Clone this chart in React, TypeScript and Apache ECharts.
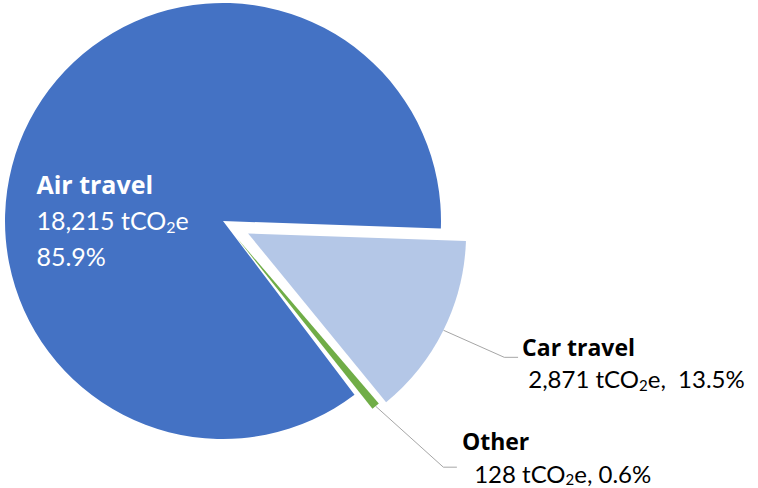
import React, { useEffect, useRef } from 'react';
import * as echarts from 'echarts';

const categories = ['Car travel', 'Other', 'Air travel'];
const values = [2871, 128, 18215];
const sliceColors = ['#B4C7E7', '#70AD47', '#4472C4'];
const unitMain = 'tCO';
const unitSub = '2';
const unitEnd = 'e';

const FONT = 'Lato';
const BOLD_FONT = 'Open Sans';

export default function App() {
  const ref = useRef<HTMLDivElement>(null);

  useEffect(() => {
    const chart = echarts.init(ref.current!, null, { renderer: 'svg' });
    const fmt = (v: number) => v.toLocaleString('en-US');
    const center = [223, 221];
    const radius = 218;

    const makeData = (visible: number, label: any) =>
      categories.map((name, i) => ({
        name,
        value: values[i],
        selected: i === visible,
        itemStyle: {
          color: i === visible ? sliceColors[i] : 'rgba(0,0,0,0)',
          borderWidth: 0,
        },
        label: i === visible ? label : { show: false },
        labelLine: { show: i === visible && label.position === 'outside' },
      }));

    const richFor = (size: number, subSize: number, subPad: number, color: string, lh: number, boldSize: number) => ({
      b: { fontFamily: BOLD_FONT, fontWeight: 'bold', fontSize: boldSize, color, lineHeight: lh, align: 'left' },
      n: { fontFamily: FONT, fontSize: size, color, lineHeight: lh, align: 'left' },
      s: { fontFamily: FONT, fontSize: subSize, color, lineHeight: lh, padding: [subPad, 0, 0, 0], align: 'left' },
    });

    const airLabel = {
      show: true,
      position: 'inside',
      formatter: (p: any) =>
        `{b|${p.name}}\n{n|${fmt(p.value)} ${unitMain}}{s|${unitSub}}{n|${unitEnd}}\n{n|${p.percent.toFixed(1)}%}`,
      rich: richFor(25, 16, 12, '#ffffff', 36, 25),
    };

    const carLabel = {
      show: true,
      position: 'outside',
      distanceToLabelLine: 4,
      edgeDistance: 0,
      padding: [11, 0, 0, 0],
      formatter: (p: any) =>
        `{b|${p.name}}\n{n| ${fmt(p.value)} ${unitMain}}{s|${unitSub}}{n|${unitEnd},  ${p.percent.toFixed(1)}%}`,
      rich: richFor(24, 15, 12, '#000000', 32, 23),
    };

    const otherLabel = {
      show: true,
      position: 'outside',
      distanceToLabelLine: 5,
      edgeDistance: 0,
      padding: [0, 0, 20, 0],
      formatter: (p: any) =>
        `{b|${p.name}}\n{n|  ${fmt(p.value)} ${unitMain}}{s|${unitSub}}{n|${unitEnd}, ${p.percent.toFixed(1)}%}`,
      rich: richFor(24, 15, 12, '#000000', 32, 23),
    };

    const common = {
      type: 'pie',
      center,
      radius,
      clockwise: true,
      silent: true,
      avoidLabelOverlap: false,
      percentPrecision: 1,
      emphasis: { disabled: true },
    };

    chart.setOption({
      animation: false,
      series: [
        {
          ...common,
          startAngle: -2,
          selectedMode: false,
          data: makeData(2, airLabel),
          labelLayout: (p: any) => (p.dataIndex === 2 ? { dx: -11, dy: 51 } : {}),
        },
        {
          ...common,
          startAngle: -2,
          selectedMode: 'single',
          selectedOffset: 28,
          labelLine: { length: 61, length2: 20, minTurnAngle: 156, lineStyle: { color: '#A6A6A6', width: 1 } },
          data: makeData(0, carLabel),
        },
        {
          ...common,
          startAngle: -0.7,
          selectedMode: 'single',
          selectedOffset: 22,
          labelLine: { length: 79, length2: 31, minTurnAngle: 138, lineStyle: { color: '#A6A6A6', width: 1 } },
          data: makeData(1, otherLabel),
        },
      ],
    });

    return () => chart.dispose();
  }, []);

  return (
    <div
      ref={ref}
      style={{ position: 'fixed', left: 0, top: 0, width: 758, height: 488, background: '#ffffff' }}
    />
  );
}
